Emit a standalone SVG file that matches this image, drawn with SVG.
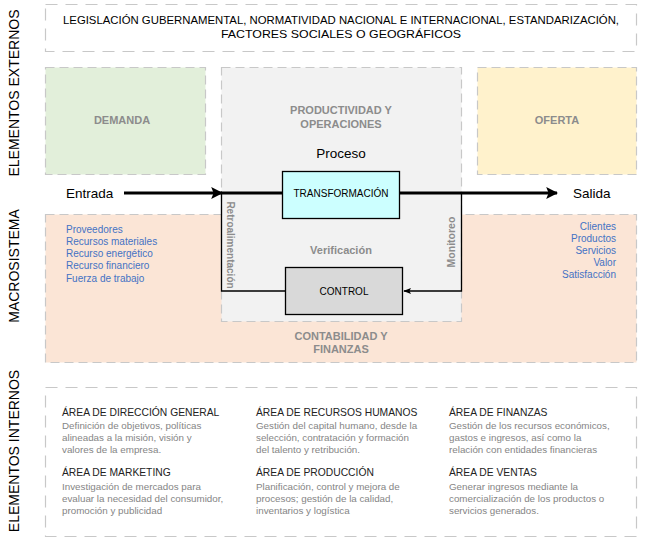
<svg xmlns="http://www.w3.org/2000/svg" width="647" height="543" viewBox="0 0 647 543">
<style>
text{font-family:"Liberation Sans",Arial,sans-serif}
.side{font-size:14px;fill:#000;text-anchor:middle}
.dash1{stroke:#c8c8c8;stroke-width:1.2;stroke-dasharray:12 8}
.dash2{stroke:#c8c8c8;stroke-width:1.2;stroke-dasharray:9 5}
.gb{font-size:11px;font-weight:bold;fill:#8c8c8c;text-anchor:middle}
.blue{font-size:10px;fill:#4472c4}
.head{font-size:10.3px;fill:#222}
.desc{font-size:9.8px;fill:#858585}
.big{font-size:13.5px;fill:#000}
.thick{stroke:#000;stroke-width:3;fill:none}
.thin{stroke:#000;stroke-width:1.3;fill:none}
</style>
<defs>
<marker id="ah" viewBox="0 0 10 10" refX="9" refY="5" markerWidth="4" markerHeight="4" markerUnits="strokeWidth" orient="auto">
<path d="M0,0 L10,5 L0,10 L2,5 Z" fill="#000"/>
</marker>
<marker id="ahs" viewBox="0 0 10 10" refX="9" refY="5" markerWidth="6" markerHeight="6" markerUnits="strokeWidth" orient="auto">
<path d="M0,1 L10,5 L0,9 L2,5 Z" fill="#000"/>
</marker>
</defs>
<rect width="647" height="543" fill="#fff"/>

<g id="side-labels">
<text class="side" transform="translate(19,93) rotate(-90)">ELEMENTOS EXTERNOS</text>
<text class="side" transform="translate(19,266) rotate(-90)">MACROSISTEMA</text>
<text class="side" transform="translate(19,451) rotate(-90)">ELEMENTOS INTERNOS</text>
</g>

<g id="externos">
<rect x="45.5" y="4.5" width="591" height="47" fill="#fff" class="dash1"/>
<text x="341" y="24" font-size="11" text-anchor="middle" fill="#000" textLength="556" lengthAdjust="spacingAndGlyphs">LEGISLACIÓN GUBERNAMENTAL, NORMATIVIDAD NACIONAL E INTERNACIONAL, ESTANDARIZACIÓN,</text>
<text x="341" y="38" font-size="11" text-anchor="middle" fill="#000" textLength="240" lengthAdjust="spacingAndGlyphs">FACTORES SOCIALES O GEOGRÁFICOS</text>
</g>

<g id="demanda">
<rect x="45.5" y="67.5" width="160" height="107" fill="#e2efda" class="dash2"/>
<text class="gb" x="122" y="124">DEMANDA</text>
</g>

<g id="oferta">
<rect x="477.5" y="67.5" width="159" height="107" fill="#fff2cc" class="dash2"/>
<text class="gb" x="557" y="124">OFERTA</text>
</g>

<g id="contabilidad">
<rect x="45.5" y="214.5" width="591" height="148" fill="#fbe5d6" class="dash2"/>
<text class="gb" x="341" y="340">CONTABILIDAD Y</text>
<text class="gb" x="341" y="353">FINANZAS</text>
<text class="blue" x="66" y="233">Proveedores</text>
<text class="blue" x="66" y="245">Recursos materiales</text>
<text class="blue" x="66" y="257">Recurso energético</text>
<text class="blue" x="66" y="269">Recurso financiero</text>
<text class="blue" x="66" y="282">Fuerza de trabajo</text>
<g text-anchor="end">
<text class="blue" x="616" y="230">Clientes</text>
<text class="blue" x="616" y="242">Productos</text>
<text class="blue" x="616" y="254">Servicios</text>
<text class="blue" x="616" y="266">Valor</text>
<text class="blue" x="616" y="278">Satisfacción</text>
</g>
</g>

<g id="productividad">
<rect x="221.5" y="67.5" width="240" height="254" fill="#f2f2f2" class="dash2"/>
<text class="gb" x="341" y="114">PRODUCTIVIDAD Y</text>
<text class="gb" x="341" y="128">OPERACIONES</text>
<text class="big" x="341" y="158" text-anchor="middle">Proceso</text>
<text class="gb" x="341" y="254">Verificación</text>
</g>

<g id="connectors">
<line class="thick" x1="124" y1="193" x2="222" y2="193" marker-end="url(#ah)"/>
<line class="thick" x1="221" y1="193" x2="283" y2="193"/>
<line class="thick" x1="400" y1="193" x2="557" y2="193" marker-end="url(#ah)"/>
<path class="thin" d="M285,291 H221.5 V193"/>
<path class="thin" d="M461.5,193 V291 H404" marker-end="url(#ahs)"/>
<text transform="translate(227,245) rotate(90)" font-size="10" font-weight="bold" fill="#8c8c8c" text-anchor="middle">Retroalimentación</text>
<text transform="translate(455,242) rotate(-90)" font-size="10.5" font-weight="bold" fill="#8c8c8c" text-anchor="middle">Monitoreo</text>
<text class="big" x="66" y="198">Entrada</text>
<text class="big" x="573" y="198">Salida</text>
</g>

<g id="transformacion">
<rect x="282.5" y="171.5" width="117" height="47" fill="#ccffff" stroke="#000" stroke-width="1.3"/>
<text x="341" y="197" font-size="10" text-anchor="middle" fill="#000">TRANSFORMACIÓN</text>
</g>

<g id="control">
<rect x="285.5" y="267.5" width="117" height="47" fill="#d9d9d9" stroke="#000" stroke-width="1.3"/>
<text x="344" y="295" font-size="10" text-anchor="middle" fill="#000">CONTROL</text>
</g>

<g id="internos">
<rect x="45.5" y="387.5" width="591" height="149" fill="#fff" class="dash1"/>
<text class="head" x="62" y="416">ÁREA DE DIRECCIÓN GENERAL</text>
<text class="desc" x="62" y="428.5">Definición de objetivos, políticas</text>
<text class="desc" x="62" y="441">alineadas a la misión, visión y</text>
<text class="desc" x="62" y="453">valores de la empresa.</text>
<text class="head" x="256" y="416">ÁREA DE RECURSOS HUMANOS</text>
<text class="desc" x="256" y="428.5">Gestión del capital humano, desde la</text>
<text class="desc" x="256" y="441">selección, contratación y formación</text>
<text class="desc" x="256" y="453">del talento y retribución.</text>
<text class="head" x="449" y="416">ÁREA DE FINANZAS</text>
<text class="desc" x="449" y="428.5">Gestión de los recursos económicos,</text>
<text class="desc" x="449" y="441">gastos e ingresos, así como la</text>
<text class="desc" x="449" y="453">relación con entidades financieras</text>
<text class="head" x="62" y="476">ÁREA DE MARKETING</text>
<text class="desc" x="62" y="489.5">Investigación de mercados para</text>
<text class="desc" x="62" y="501.5">evaluar la necesidad del consumidor,</text>
<text class="desc" x="62" y="514">promoción y publicidad</text>
<text class="head" x="256" y="476">ÁREA DE PRODUCCIÓN</text>
<text class="desc" x="256" y="489.5">Planificación, control y mejora de</text>
<text class="desc" x="256" y="501.5">procesos; gestión de la calidad,</text>
<text class="desc" x="256" y="514">inventarios y logística</text>
<text class="head" x="449" y="476">ÁREA DE VENTAS</text>
<text class="desc" x="449" y="489.5">Generar ingresos mediante la</text>
<text class="desc" x="449" y="501.5">comercialización de los productos o</text>
<text class="desc" x="449" y="514">servicios generados.</text>
</g>
</svg>
